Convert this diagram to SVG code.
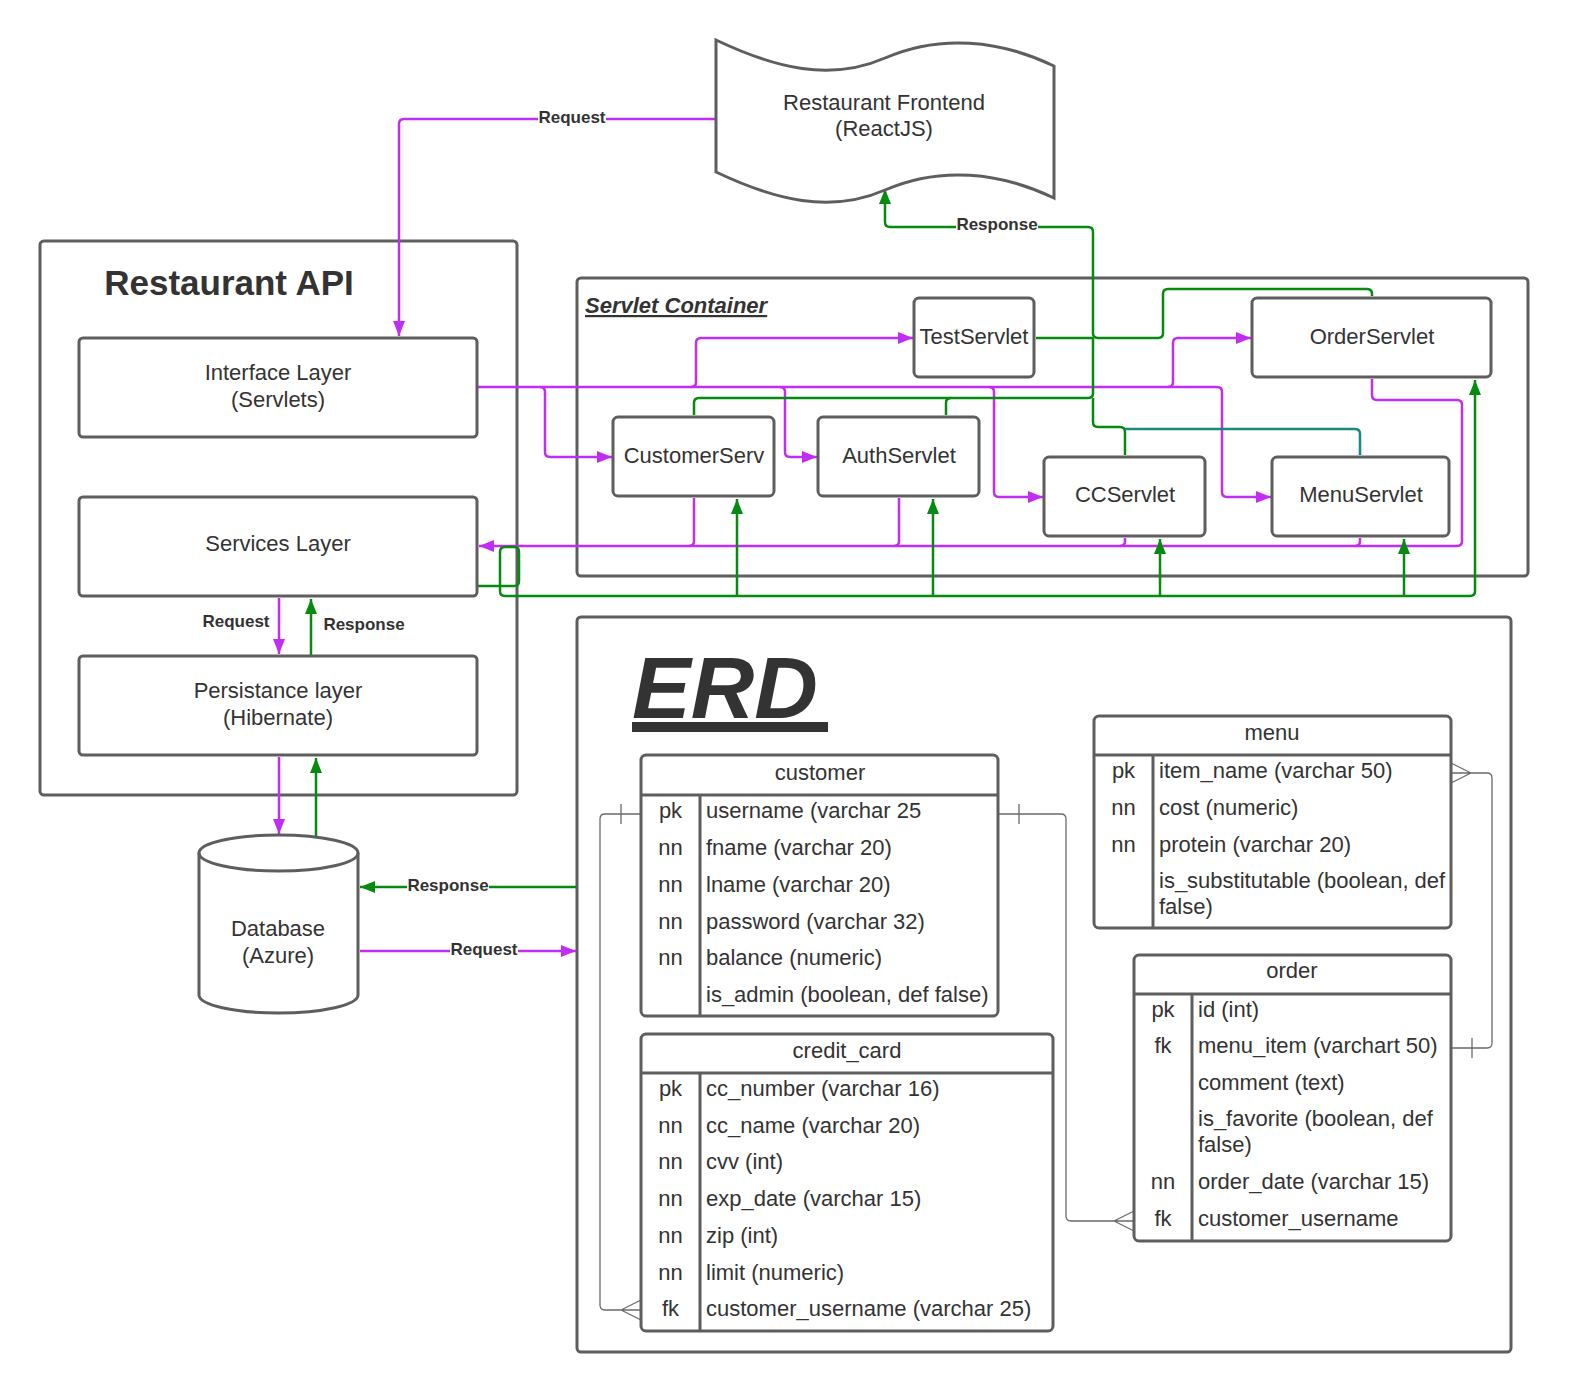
<svg xmlns="http://www.w3.org/2000/svg" width="1577" height="1400" viewBox="0 0 1577 1400">
<style>
.bx{fill:#fff;stroke:#5e5e5e;stroke-width:3}
.ct{fill:none;stroke:#5e5e5e;stroke-width:3}
.t{font-family:"Liberation Sans",Arial,sans-serif;font-size:22px;fill:#333;text-anchor:middle}
.tb{font-family:"Liberation Sans",Arial,sans-serif;font-size:22px;fill:#333}
.tm{text-anchor:middle}
.lb{font-family:"Liberation Sans",Arial,sans-serif;font-size:17px;font-weight:bold;fill:#333;text-anchor:middle}
.req{fill:none;stroke:#c22df3;stroke-width:2.5}
.res{fill:none;stroke:#078a10;stroke-width:2.5}
.tea{fill:none;stroke:#168a80;stroke-width:2.5}
.er{fill:none;stroke:#6a6a6a;stroke-width:1.3}
.bg{fill:#fff}
</style>
<defs>
<marker id="ap" markerUnits="userSpaceOnUse" markerWidth="15" markerHeight="12" refX="15" refY="6" orient="auto"><path d="M0,0 L15,6 L0,12 Z" fill="#c22df3"/></marker>
<marker id="ag" markerUnits="userSpaceOnUse" markerWidth="15" markerHeight="12" refX="15" refY="6" orient="auto"><path d="M0,0 L15,6 L0,12 Z" fill="#078a10"/></marker>
</defs>
<rect width="1577" height="1400" fill="#fff"/>

<!-- containers -->
<g id="restaurant-api">
<rect class="ct" x="40" y="241" width="477" height="554" rx="4"/>
<text x="229" y="295" style="font-family:'Liberation Sans',Arial,sans-serif;font-size:35px;font-weight:bold;fill:#333;text-anchor:middle">Restaurant API</text>
</g>
<g id="servlet-container">
<rect class="ct" x="577" y="278" width="951" height="298" rx="4"/>
<text x="585" y="313" text-decoration="underline" style="font-family:'Liberation Sans',Arial,sans-serif;font-size:22px;font-weight:bold;font-style:italic;fill:#333">Servlet Container</text>
</g>
<g id="erd-container">
<rect class="ct" x="577" y="617" width="934" height="735" rx="4"/>
<text x="632" y="718" style="font-family:'Liberation Sans',Arial,sans-serif;font-size:88px;font-weight:bold;font-style:italic;fill:#333">ERD</text>
<rect x="632" y="722" width="196" height="10" fill="#333"/>
</g>

<!-- connectors -->
<g id="connectors">
<!-- requests -->
<path class="req" d="M716,119 L404,119 Q399,119 399,124 L399,336" marker-end="url(#ap)"/>
<path class="req" d="M477,387 L1217,387 Q1222,387 1222,392 L1222,492 Q1222,497 1227,497 L1271,497" marker-end="url(#ap)"/>
<path class="req" d="M540,387 Q545,387 545,392 L545,452 Q545,457 550,457 L612,457" marker-end="url(#ap)"/>
<path class="req" d="M691,387 Q696,387 696,382 L696,343 Q696,338 701,338 L913,338" marker-end="url(#ap)"/>
<path class="req" d="M780,387 Q785,387 785,392 L785,452 Q785,457 790,457 L817,457" marker-end="url(#ap)"/>
<path class="req" d="M989,387 Q994,387 994,392 L994,492 Q994,497 999,497 L1043,497" marker-end="url(#ap)"/>
<path class="req" d="M1168,387 Q1173,387 1173,382 L1173,343 Q1173,338 1178,338 L1251,338" marker-end="url(#ap)"/>
<path class="req" d="M1372,379 L1372,395 Q1372,400 1377,400 L1457,400 Q1462,400 1462,405 L1462,541 Q1462,546 1457,546 L479,546" marker-end="url(#ap)"/>
<path class="req" d="M694,498 L694,541 Q694,546 689,546"/>
<path class="req" d="M899,498 L899,541 Q899,546 894,546"/>
<path class="req" d="M1125,538 L1125,541 Q1125,546 1120,546"/>
<path class="req" d="M1360,538 L1360,541 Q1360,546 1355,546"/>
<path class="req" d="M279,598 L279,654" marker-end="url(#ap)"/>
<path class="req" d="M279,757 L279,834" marker-end="url(#ap)"/>
<path class="req" d="M360,951 L576,951" marker-end="url(#ap)"/>
<!-- responses -->
<path class="res" d="M1372,296 L1372,294 Q1372,289 1367,289 L1168,289 Q1163,289 1163,294 L1163,333 Q1163,338 1158,338 L1098,338 Q1093,338 1093,333 L1093,232 Q1093,227 1088,227 L890,227 Q885,227 885,222 L885,189" marker-end="url(#ag)"/>
<path class="res" d="M1036,338 L1093,338"/>
<path class="res" d="M694,415 L694,403 Q694,398 699,398 L1088,398 Q1093,398 1093,393 L1093,338"/>
<path class="res" d="M946,415 L946,403 Q946,398 951,398"/>
<path class="res" d="M1125,455 L1125,432 Q1125,427 1120,427 L1098,427 Q1093,427 1093,422 L1093,398"/>
<path class="tea" d="M1360,455 L1360,434 Q1360,429 1355,429 L1125,429"/>
<path class="res" d="M477,586 L514,586 Q519,586 519,581 L519,552 Q519,547 514,547 L505,547 Q500,547 500,552 L500,591 Q500,596 505,596 L1470,596 Q1475,596 1475,591 L1475,380" marker-end="url(#ag)"/>
<path class="res" d="M737,596 L737,499" marker-end="url(#ag)"/>
<path class="res" d="M933,596 L933,499" marker-end="url(#ag)"/>
<path class="res" d="M1160,596 L1160,539" marker-end="url(#ag)"/>
<path class="res" d="M1404,596 L1404,539" marker-end="url(#ag)"/>
<path class="res" d="M311,655 L311,599" marker-end="url(#ag)"/>
<path class="res" d="M316,836 L316,758" marker-end="url(#ag)"/>
<path class="res" d="M576,887 L360,887" marker-end="url(#ag)"/>
<!-- labels -->
<rect class="bg" x="538" y="108" width="68" height="19"/>
<text class="lb" x="572" y="123">Request</text>
<rect class="bg" x="956" y="215" width="82" height="19"/>
<text class="lb" x="997" y="230">Response</text>
<text class="lb" x="236" y="627">Request</text>
<text class="lb" x="364" y="630">Response</text>
<rect class="bg" x="407" y="876" width="82" height="19"/>
<text class="lb" x="448" y="891">Response</text>
<rect class="bg" x="450" y="940" width="68" height="19"/>
<text class="lb" x="484" y="955">Request</text>
<!-- ERD relations -->
<path class="er" d="M641,814 L605,814 Q600,814 600,819 L600,1305 Q600,1310 605,1310 L641,1310 M621,804 L621,824 M621,1310 L641,1300 M621,1310 L641,1320"/>
<path class="er" d="M998,814 L1061,814 Q1066,814 1066,819 L1066,1216 Q1066,1221 1071,1221 L1134,1221 M1019,804 L1019,824 M1114,1221 L1134,1211 M1114,1221 L1134,1231"/>
<path class="er" d="M1451,773 L1487,773 Q1492,773 1492,778 L1492,1043 Q1492,1048 1487,1048 L1451,1048 M1472,1038 L1472,1058 M1471,773 L1451,763 M1471,773 L1451,783"/>
</g>

<!-- nodes -->
<g id="frontend">
<path class="bx" d="M716,40 C775,68 830,82 885,58 C940,34 1000,40 1054,66 L1054,198 C1000,172 940,166 885,190 C830,214 775,200 716,172 Z"/>
<text class="t" x="884" y="110">Restaurant Frontend</text>
<text class="t" x="884" y="136">(ReactJS)</text>
</g>
<g id="interface-layer">
<rect class="bx" x="79" y="338" width="398" height="99" rx="4"/>
<text class="t" x="278" y="380">Interface Layer</text>
<text class="t" x="278" y="407">(Servlets)</text>
</g>
<g id="services-layer">
<rect class="bx" x="79" y="497" width="398" height="99" rx="4"/>
<text class="t" x="278" y="551">Services Layer</text>
</g>
<g id="persistance-layer">
<rect class="bx" x="79" y="656" width="398" height="99" rx="4"/>
<text class="t" x="278" y="698">Persistance layer</text>
<text class="t" x="278" y="725">(Hibernate)</text>
</g>
<g id="database">
<path class="bx" d="M199,853 A79.5,18 0 0,1 358,853 L358,995 A79.5,18 0 0,1 199,995 Z"/>
<path class="ct" d="M199,853 A79.5,18 0 0,0 358,853"/>
<text class="t" x="278" y="936">Database</text>
<text class="t" x="278" y="963">(Azure)</text>
</g>
<g id="test-servlet">
<rect class="bx" x="914" y="298" width="120" height="79" rx="5"/>
<text class="t" x="974" y="344">TestServlet</text>
</g>
<g id="order-servlet">
<rect class="bx" x="1252" y="298" width="239" height="79" rx="5"/>
<text class="t" x="1372" y="344">OrderServlet</text>
</g>
<g id="customer-servlet">
<rect class="bx" x="613" y="417" width="161" height="79" rx="5"/>
<text class="t" x="694" y="463">CustomerServ</text>
</g>
<g id="auth-servlet">
<rect class="bx" x="818" y="417" width="161" height="79" rx="5"/>
<text class="t" x="899" y="463">AuthServlet</text>
</g>
<g id="cc-servlet">
<rect class="bx" x="1044" y="457" width="161" height="79" rx="5"/>
<text class="t" x="1125" y="502">CCServlet</text>
</g>
<g id="menu-servlet">
<rect class="bx" x="1272" y="457" width="177" height="79" rx="5"/>
<text class="t" x="1361" y="502">MenuServlet</text>
</g>

<!-- ERD tables -->
<g id="customer-table">
<rect class="bx" x="641" y="755" width="357" height="261" rx="5"/>
<path class="ct" d="M641,795 L998,795 M700,795 L700,1016"/>
<text class="tb tm" x="820" y="780">customer</text>
<g class="tb tm">
<text x="670.5" y="818">pk</text><text x="670.5" y="855">nn</text><text x="670.5" y="892">nn</text><text x="670.5" y="929">nn</text><text x="670.5" y="965">nn</text>
</g>
<g class="tb">
<text x="706" y="818">username (varchar 25</text>
<text x="706" y="855">fname (varchar 20)</text>
<text x="706" y="892">lname (varchar 20)</text>
<text x="706" y="929">password (varchar 32)</text>
<text x="706" y="965">balance (numeric)</text>
<text x="706" y="1002">is_admin (boolean, def false)</text>
</g>
</g>
<g id="credit-card-table">
<rect class="bx" x="641" y="1034" width="412" height="297" rx="5"/>
<path class="ct" d="M641,1073 L1053,1073 M700,1073 L700,1331"/>
<text class="tb tm" x="847" y="1058">credit_card</text>
<g class="tb tm">
<text x="670.5" y="1096">pk</text><text x="670.5" y="1133">nn</text><text x="670.5" y="1169">nn</text><text x="670.5" y="1206">nn</text><text x="670.5" y="1243">nn</text><text x="670.5" y="1280">nn</text><text x="670.5" y="1316">fk</text>
</g>
<g class="tb">
<text x="706" y="1096">cc_number (varchar 16)</text>
<text x="706" y="1133">cc_name (varchar 20)</text>
<text x="706" y="1169">cvv (int)</text>
<text x="706" y="1206">exp_date (varchar 15)</text>
<text x="706" y="1243">zip (int)</text>
<text x="706" y="1280">limit (numeric)</text>
<text x="706" y="1316">customer_username (varchar 25)</text>
</g>
</g>
<g id="menu-table">
<rect class="bx" x="1094" y="716" width="357" height="212" rx="5"/>
<path class="ct" d="M1094,755 L1451,755 M1153,755 L1153,928"/>
<text class="tb tm" x="1272" y="740">menu</text>
<g class="tb tm">
<text x="1123.5" y="778">pk</text><text x="1123.5" y="815">nn</text><text x="1123.5" y="852">nn</text>
</g>
<g class="tb">
<text x="1159" y="778">item_name (varchar 50)</text>
<text x="1159" y="815">cost (numeric)</text>
<text x="1159" y="852">protein (varchar 20)</text>
<text x="1159" y="888">is_substitutable (boolean, def</text>
<text x="1159" y="914">false)</text>
</g>
</g>
<g id="order-table">
<rect class="bx" x="1134" y="955" width="317" height="286" rx="5"/>
<path class="ct" d="M1134,994 L1451,994 M1192,994 L1192,1241"/>
<text class="tb tm" x="1292" y="978">order</text>
<g class="tb tm">
<text x="1163" y="1017">pk</text><text x="1163" y="1053">fk</text><text x="1163" y="1189">nn</text><text x="1163" y="1226">fk</text>
</g>
<g class="tb">
<text x="1198" y="1017">id (int)</text>
<text x="1198" y="1053">menu_item (varchart 50)</text>
<text x="1198" y="1090">comment (text)</text>
<text x="1198" y="1126">is_favorite (boolean, def</text>
<text x="1198" y="1152">false)</text>
<text x="1198" y="1189">order_date (varchar 15)</text>
<text x="1198" y="1226">customer_username</text>
</g>
</g>
</svg>
